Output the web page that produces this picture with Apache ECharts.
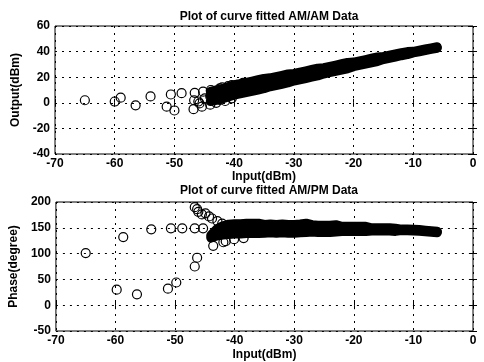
<!DOCTYPE html>
<html>
<head>
<meta charset="utf-8">
<script src="https://cdn.jsdelivr.net/npm/echarts@6/dist/echarts.min.js"></script>
<style>
  html, body { margin: 0; padding: 0; background: #fff; }
  #main { width: 484px; height: 362px; }
</style>
</head>
<body>
<div id="main"></div>
<script>
// x ticks shared by both plots
const inputTicks = [-70, -60, -50, -40, -30, -20, -10, 0];

// dense fitted region, sampled along input (dBm)
const bandX = [-44, -43, -42, -41, -40, -39, -38, -37, -36, -35, -34, -33, -32, -31, -30, -29, -28, -27, -26, -25,
  -24, -23, -22, -21, -20, -19, -18, -17, -16, -15, -14, -13, -12, -11, -10, -9, -8, -7, -6];

// AM/AM: upper edge, middle, lower edge of the dense band
const amTop = [9, 10, 11, 12.5, 14, 15, 16, 17, 18, 19, 19.5, 20.5, 21.5, 22.5, 23, 24, 25, 26, 27, 27.5,
  28.5, 29.5, 30.5, 31.5, 31.8, 32.8, 33.8, 34.8, 35.8, 36.2, 37.2, 38.2, 39.2, 40, 40.2, 41.1, 42, 42.9, 43.8];
const amMid = [5, 6, 7, 8.5, 10, 11, 12, 13, 14, 15, 16, 17, 18, 19, 20, 21, 22, 23, 24, 25,
  26, 27, 28, 29, 30, 31, 32, 33, 34, 35, 36, 37, 38, 38.8, 39.6, 40.5, 41.4, 42.3, 43.2];
const amBot = [1, 2, 3, 4.5, 6, 7, 8, 9, 10, 11, 12.5, 13.5, 14.5, 15.5, 17, 18, 19, 20, 21, 22.5,
  23.5, 24.5, 25.5, 26.5, 28.2, 29.2, 30.2, 31.2, 32.2, 33.8, 34.8, 35.8, 36.8, 37.6, 39, 39.9, 40.8, 41.7, 42.6];

// AM/AM: scattered low-level samples
const amSparseX = [-65, -60, -59, -56.5, -54, -51.3, -50.6, -50, -48.8, -46.8, -46.7, -46.6, -46, -45.8, -45.4,
  -45.2, -44.9, -44, -44, -43.9, -43, -42.4, -42.4, -42, -41.5, -41, -40.4, -40.4, -39.6, -38.5];
const amSparseY = [2, 1, 4, -2, 5, -3, 6.5, -6, 7.5, -5, 2, 7.8, 1, -0.5, -3,
  8.7, 3.5, -1.5, 5, 10, 0, 2.2, 11.3, 12, 1.4, 13, 3.5, 13.9, 14, 15.5];

// AM/PM: upper edge, middle, lower edge of the dense band
const pmTop = [136, 148, 154, 157, 158, 158, 159, 159, 159, 156.5, 157.5, 156.5, 157.5, 156.5, 156.5, 157.5, 159, 156, 155, 155,
  155, 156, 153, 153, 153, 153, 153, 150, 150, 150, 150, 149, 147.5, 147.5, 147, 146.5, 145.5, 144.5, 143.5];
const pmMid = [133, 141, 145, 147, 148, 148, 149, 149, 149, 148, 149, 148, 149, 148, 148, 149, 150, 149, 148, 148,
  148, 149, 148, 148, 148, 148, 148, 147, 147, 147, 147, 146, 146, 146, 145.5, 145, 144, 143, 142];
const pmBot = [130, 134, 136, 137, 138, 138, 139, 139, 139, 139.5, 140.5, 139.5, 140.5, 139.5, 139.5, 140.5, 141, 142, 141, 141,
  141, 142, 143, 143, 143, 143, 143, 144, 144, 144, 144, 143, 144.5, 144.5, 144, 143.5, 142.5, 141.5, 140.5];

// AM/PM: scattered low-level samples
const pmSparseX = [-65, -59.8, -58.7, -56.4, -54, -50.7, -48.8, -51.2, -49.8, -46.7, -46.3, -46.7, -45.3,
  -46.7, -46.3, -46.1, -45.5, -44.9, -44.3, -43.8, -42.9, -42.1, -43.5, -43.6, -41.5, -40.1, -41.9, -38.5];
const pmSparseY = [101, 30, 132, 21, 147, 149, 149, 32, 44, 75, 92, 149, 149,
  190, 186, 181, 176, 178, 172, 168, 163, 158, 138, 115, 124, 128, 122, 130];

const pairs = (xs, ys) => xs.map((x, i) => [x, ys[i]]);

const font = 'Liberation Sans';
const gridLine = { show: true, lineStyle: { color: '#000', type: [2, 5], width: 1 } };
const tickLabel = { color: '#000', fontFamily: font, fontWeight: 'bold', fontSize: 12 };
const nameStyle = { color: '#000', fontFamily: font, fontWeight: 'bold', fontSize: 12 };

function xAxisFor(gridIndex, gap) {
  return [{
    gridIndex: gridIndex, type: 'value', min: inputTicks[0], max: inputTicks[inputTicks.length - 1], interval: 10,
    name: 'Input(dBm)', nameLocation: 'middle', nameGap: gap, nameTextStyle: nameStyle,
    axisLine: { show: false }, axisTick: { inside: true, length: 4, lineStyle: { color: '#000' } },
    axisLabel: Object.assign({ margin: 4 }, tickLabel), splitLine: gridLine
  }, {
    gridIndex: gridIndex, type: 'value', position: 'top', min: -70, max: 0, interval: 10,
    axisLine: { show: false }, axisTick: { inside: true, length: 4, lineStyle: { color: '#000' } },
    axisLabel: { show: false }, splitLine: { show: false }
  }];
}

function yAxisFor(gridIndex, min, max, interval, name, gap) {
  return [{
    gridIndex: gridIndex, type: 'value', min: min, max: max, interval: interval,
    name: name, nameLocation: 'middle', nameRotate: 90, nameGap: gap, nameTextStyle: nameStyle,
    axisLine: { show: false }, axisTick: { inside: true, length: 4, lineStyle: { color: '#000' } },
    axisLabel: Object.assign({ margin: 5 }, tickLabel), splitLine: gridLine
  }, {
    gridIndex: gridIndex, type: 'value', position: 'right', min: min, max: max, interval: interval,
    axisLine: { show: false }, axisTick: { inside: true, length: 4, lineStyle: { color: '#000' } },
    axisLabel: { show: false }, splitLine: { show: false }
  }];
}

const hollow = { color: 'rgba(0,0,0,0)', borderColor: '#000', borderWidth: 1.2, opacity: 1 };

// the fitted region is so dense that the circles merge into a solid black strip
function band(xi, yi, ys) {
  return {
    type: 'line', xAxisIndex: xi, yAxisIndex: yi, showSymbol: false, silent: true,
    lineStyle: { color: '#000', width: 9, cap: 'round', join: 'round', opacity: 1 },
    data: pairs(bandX, ys), z: 3
  };
}

const myChart = echarts.init(document.getElementById('main'));
const option = {
  animation: false,
  backgroundColor: '#fff',
  title: [
    { text: 'Plot of curve fitted AM/AM Data', left: 264, top: 6, textAlign: 'center',
      textStyle: { color: '#000', fontFamily: font, fontWeight: 'bold', fontSize: 12 } },
    { text: 'Plot of curve fitted AM/PM Data', left: 264, top: 180, textAlign: 'center',
      textStyle: { color: '#000', fontFamily: font, fontWeight: 'bold', fontSize: 12 } }
  ],
  grid: [
    { left: 55, top: 26, width: 418, height: 128, show: true, borderColor: '#000', borderWidth: 1 },
    { left: 55, top: 202, width: 418, height: 131, show: true, borderColor: '#000', borderWidth: 1 }
  ],
  xAxis: xAxisFor(0, 14).concat(xAxisFor(1, 18)),
  yAxis: yAxisFor(0, -40, 60, 20, 'Output(dBm)', 30).concat(yAxisFor(1, -50, 200, 50, 'Phase(degree)', 30)),
  series: [
    { type: 'scatter', xAxisIndex: 0, yAxisIndex: 0, symbol: 'circle', symbolSize: 9, itemStyle: hollow,
      data: pairs(amSparseX, amSparseY) },
    band(0, 0, amTop), band(0, 0, amMid), band(0, 0, amBot),
    { type: 'scatter', xAxisIndex: 2, yAxisIndex: 2, symbol: 'circle', symbolSize: 9, itemStyle: hollow,
      data: pairs(pmSparseX, pmSparseY) },
    band(2, 2, pmTop), band(2, 2, pmMid), band(2, 2, pmBot)
  ]
};
option && myChart.setOption(option);
</script>
</body>
</html>
